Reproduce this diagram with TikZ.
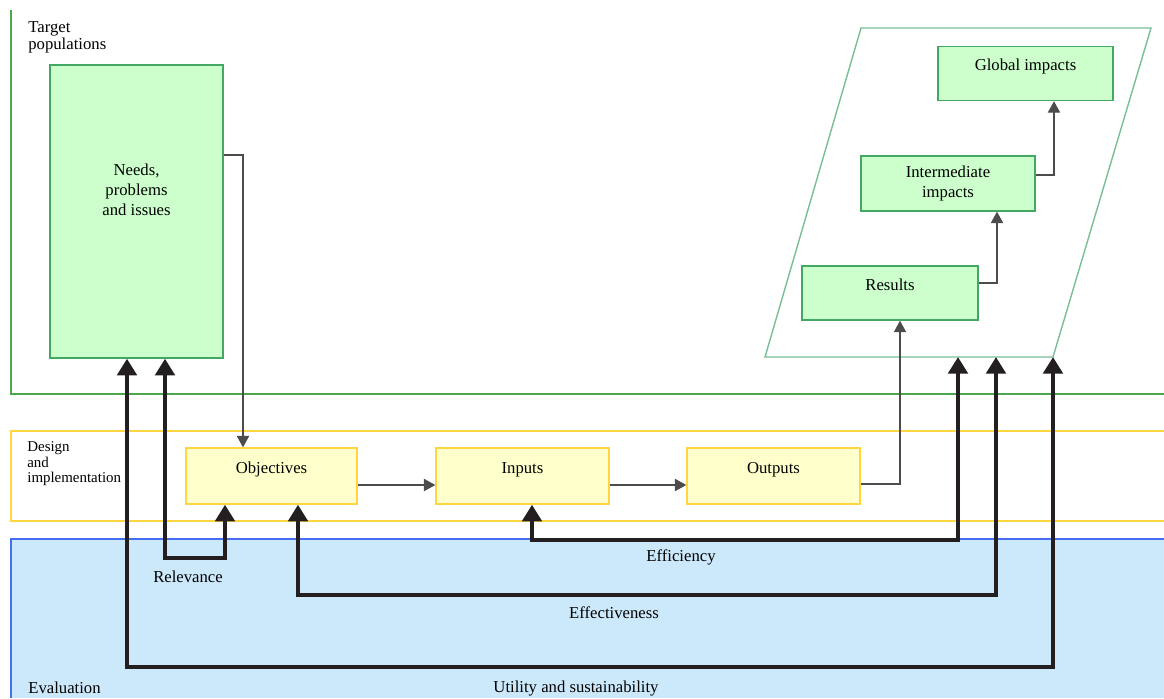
\documentclass[tikz,border=0pt]{standalone}
\usepackage{fontspec}
\setmainfont{Liberation Serif}
\usetikzlibrary{arrows.meta}
\definecolor{bandgreen}{RGB}{76,166,76}
\definecolor{boxgreen}{RGB}{66,168,100}
\definecolor{paragreen}{RGB}{120,190,150}
\definecolor{fillgreen}{RGB}{204,255,204}
\definecolor{bandyellow}{RGB}{255,214,64}
\definecolor{fillyellow}{RGB}{255,255,204}
\definecolor{bandblue}{RGB}{70,110,240}
\definecolor{fillblue}{RGB}{204,233,251}
\definecolor{arrowblack}{RGB}{35,31,32}
\begin{document}
\begin{tikzpicture}[x=0.02cm, y=-0.02cm,
		every node/.style={font=\fontsize{9.5}{11.5}\selectfont},
		sidelabel/.style={anchor=north west, align=left, inner sep=0pt},
		greenbox/.style={rectangle, draw=boxgreen, fill=fillgreen, line width=0.8pt, inner sep=0pt},
		yellowbox/.style={rectangle, draw=bandyellow, fill=fillyellow, line width=0.8pt, inner sep=0pt},
		hightext/.style={text height=13.8pt, text depth=17pt},
		flow/.style={draw=black!70, line width=0.6pt, -{Triangle[length=6.5pt,width=7pt]}},
		bigarrow/.style={draw=arrowblack, line width=2.8pt, {Triangle[length=9.5pt,width=11pt]}-{Triangle[length=9.5pt,width=11pt]}}]
		\useasboundingbox (0,0) rectangle (1164,698);
		% bands
		\draw[bandgreen, line width=1.1pt] (11,10) -- (11,394) -- (1164,394);
		\draw[bandyellow, line width=1.1pt] (1164,431) -- (11,431) -- (11,521) -- (1164,521);
		\fill[fillblue] (11,539) rectangle (1164,698);
		\draw[bandblue, line width=0.8pt] (11,698) -- (11,539) -- (1164,539);
		\node (target) at (28,21) [sidelabel, font=\fontsize{9.5}{9.8}\selectfont] {Target\\ populations};
		\node (design) at (27,441) [sidelabel, font=\fontsize{8.5}{9}\selectfont] {Design\\and\\implementation};
		\node (evallab) at (28,688) [sidelabel, anchor=west] {Evaluation};
		% impacts
		\coordinate (pbl) at (765,357);
		\coordinate (pbr) at (1053,357);
		\draw[paragreen, line width=0.8pt] (861,28) -- (1151,28) -- (pbr) -- (pbl) -- cycle;
		\node (needs) at (136.5,211.5) [greenbox, minimum width=3.46cm, minimum height=5.86cm] {};
		\node (needstext) at (136.5,190) [align=center] {Needs,\\problems\\and issues};
		\node (glob) at (1025.5,73.5) [greenbox, hightext, minimum width=3.5cm, minimum height=1.06cm] {Global impacts};
		\node (mid) at (948,183.5) [greenbox, align=center, minimum width=3.48cm, minimum height=1.1cm] {Intermediate\\impacts};
		\node (res) at (890,293) [greenbox, hightext, minimum width=3.52cm, minimum height=1.08cm] {Results};
		% programme
		\node (obj) at (271.5,476) [yellowbox, hightext, minimum width=3.42cm, minimum height=1.12cm] {Objectives};
		\node (inp) at (522.5,476) [yellowbox, hightext, minimum width=3.46cm, minimum height=1.12cm] {Inputs};
		\node (out) at (773.5,476) [yellowbox, hightext, minimum width=3.46cm, minimum height=1.12cm] {Outputs};
		\draw[flow] (needs.east |- 0,155) -| (243,0 |- obj.north);
		\draw[flow] (obj.east |- 0,485) -- (inp.west |- 0,485);
		\draw[flow] (inp.east |- 0,485) -- (out.west |- 0,485);
		\draw[flow] (out.east |- 0,484) -| (900,0 |- res.south);
		\draw[flow] (res.east |- 0,283) -| (997,0 |- mid.south);
		\draw[flow] (mid.east |- 0,175) -| (1054,0 |- glob.south);
		% evaluation criteria
		\draw[bigarrow] (165,0 |- needs.south) |- (225,558) -- (225,0 |- obj.south);
		\draw[bigarrow] (127,0 |- needs.south) |- (1053,667) -- (pbr);
		\draw[bigarrow] (532,0 |- inp.south) |- (958,540) -- (958,0 |- pbl);
		\draw[bigarrow] (298,0 |- obj.south) |- (996,595) -- (996,0 |- pbl);
		\node (relev) at (188,577) {Relevance};
		\node (effic) at (681,557) {Efficiency};
		\node (effect) at (614,613) {Effectiveness};
		\node (utility) at (576,688) {Utility and sustainability};
\end{tikzpicture}
\end{document}
